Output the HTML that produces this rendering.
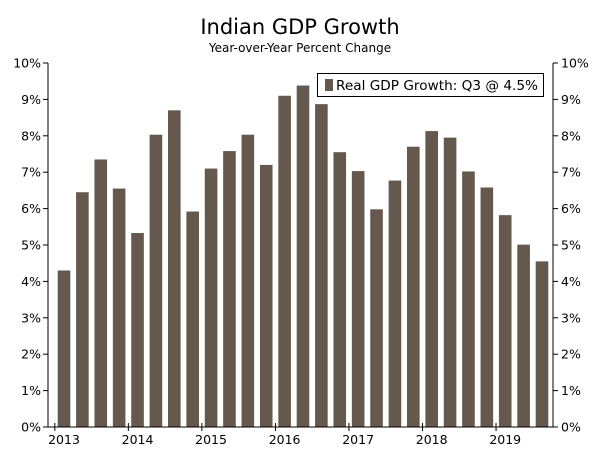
<!DOCTYPE html>
<html><head><meta charset="utf-8"><style>
body{margin:0;background:#fff;width:600px;height:454px;overflow:hidden}
text{font-family:"DejaVu Sans","Liberation Sans",sans-serif;fill:#000}
</style></head><body>
<svg id="chart" width="600" height="454" xmlns="http://www.w3.org/2000/svg">
<text x="300" y="34" text-anchor="middle" font-size="21">Indian GDP Growth</text>
<text x="300" y="52" text-anchor="middle" font-size="12">Year-over-Year Percent Change</text>
<g id="bars"></g>
<g id="axes"></g>
<g>
<rect x="317.5" y="73.5" width="226" height="23" fill="#fff" stroke="#000" stroke-width="1"/>
<rect x="325" y="79" width="8" height="12" fill="#65584c"/>
<text x="336" y="90" font-size="13" textLength="202" lengthAdjust="spacingAndGlyphs">Real GDP Growth: Q3 @ 4.5%</text>
</g>
</svg>
<script>
const values=[4.3,6.45,7.35,6.55,5.33,8.03,8.7,5.92,7.1,7.58,8.03,7.2,9.1,9.38,8.87,7.55,7.03,5.98,6.77,7.7,8.13,7.95,7.02,6.58,5.82,5.01,4.55];
const yearLabels=["2013","2014","2015","2016","2017","2018","2019"];
const yTicks=[0,1,2,3,4,5,6,7,8,9,10];
const NS="http://www.w3.org/2000/svg";
const x0=48,x1=553,yTop=63,yBot=427;
const firstC=64,lastC=542;
const step=(lastC-firstC)/(values.length-1);
function xc(i){return firstC+step*i;}
function y(v){return yBot-(v/10)*(yBot-yTop);}
function mk(t,a,p){const e=document.createElementNS(NS,t);for(const k in a)e.setAttribute(k,a[k]);p.appendChild(e);return e;}
const bars=document.getElementById('bars'),axes=document.getElementById('axes');
values.forEach((v,i)=>{
 const r=mk('rect',{x:xc(i)-6.3,y:y(v),width:12.6,height:yBot-y(v),fill:'#65584c'},bars);
 
 
});
let l=mk('line',{x1:x0,y1:yTop,x2:x0,y2:yBot,stroke:'#000'},axes);


l=mk('line',{x1:x1,y1:yTop,x2:x1,y2:yBot,stroke:'#000'},axes);


l=mk('line',{x1:x0,y1:yBot,x2:x1,y2:yBot,stroke:'#000'},axes);


yTicks.forEach(t=>{
 const yy=y(t);
 mk('line',{x1:x0-5,y1:yy,x2:x0,y2:yy,stroke:'#000'},axes);
 mk('line',{x1:x1,y1:yy,x2:x1+5,y2:yy,stroke:'#000'},axes);
 let a=mk('text',{x:x0-7,y:yy+4.5,'text-anchor':'end','font-size':'12.5'},axes);a.textContent=t+'%';
 
 
 let b=mk('text',{x:x1+8,y:yy+4.5,'font-size':'12.5'},axes);b.textContent=t+'%';
 
 
});
yearLabels.forEach((lab,k)=>{
 const tx=xc(k*4)-step/2;
 mk('line',{x1:tx,y1:yBot-4,x2:tx,y2:yBot+4,stroke:'#000'},axes);
 let t=mk('text',{x:xc(k*4),y:yBot+17,'text-anchor':'middle','font-size':'12.5'},axes);t.textContent=lab;
 
 
});
</script>
</body></html>
